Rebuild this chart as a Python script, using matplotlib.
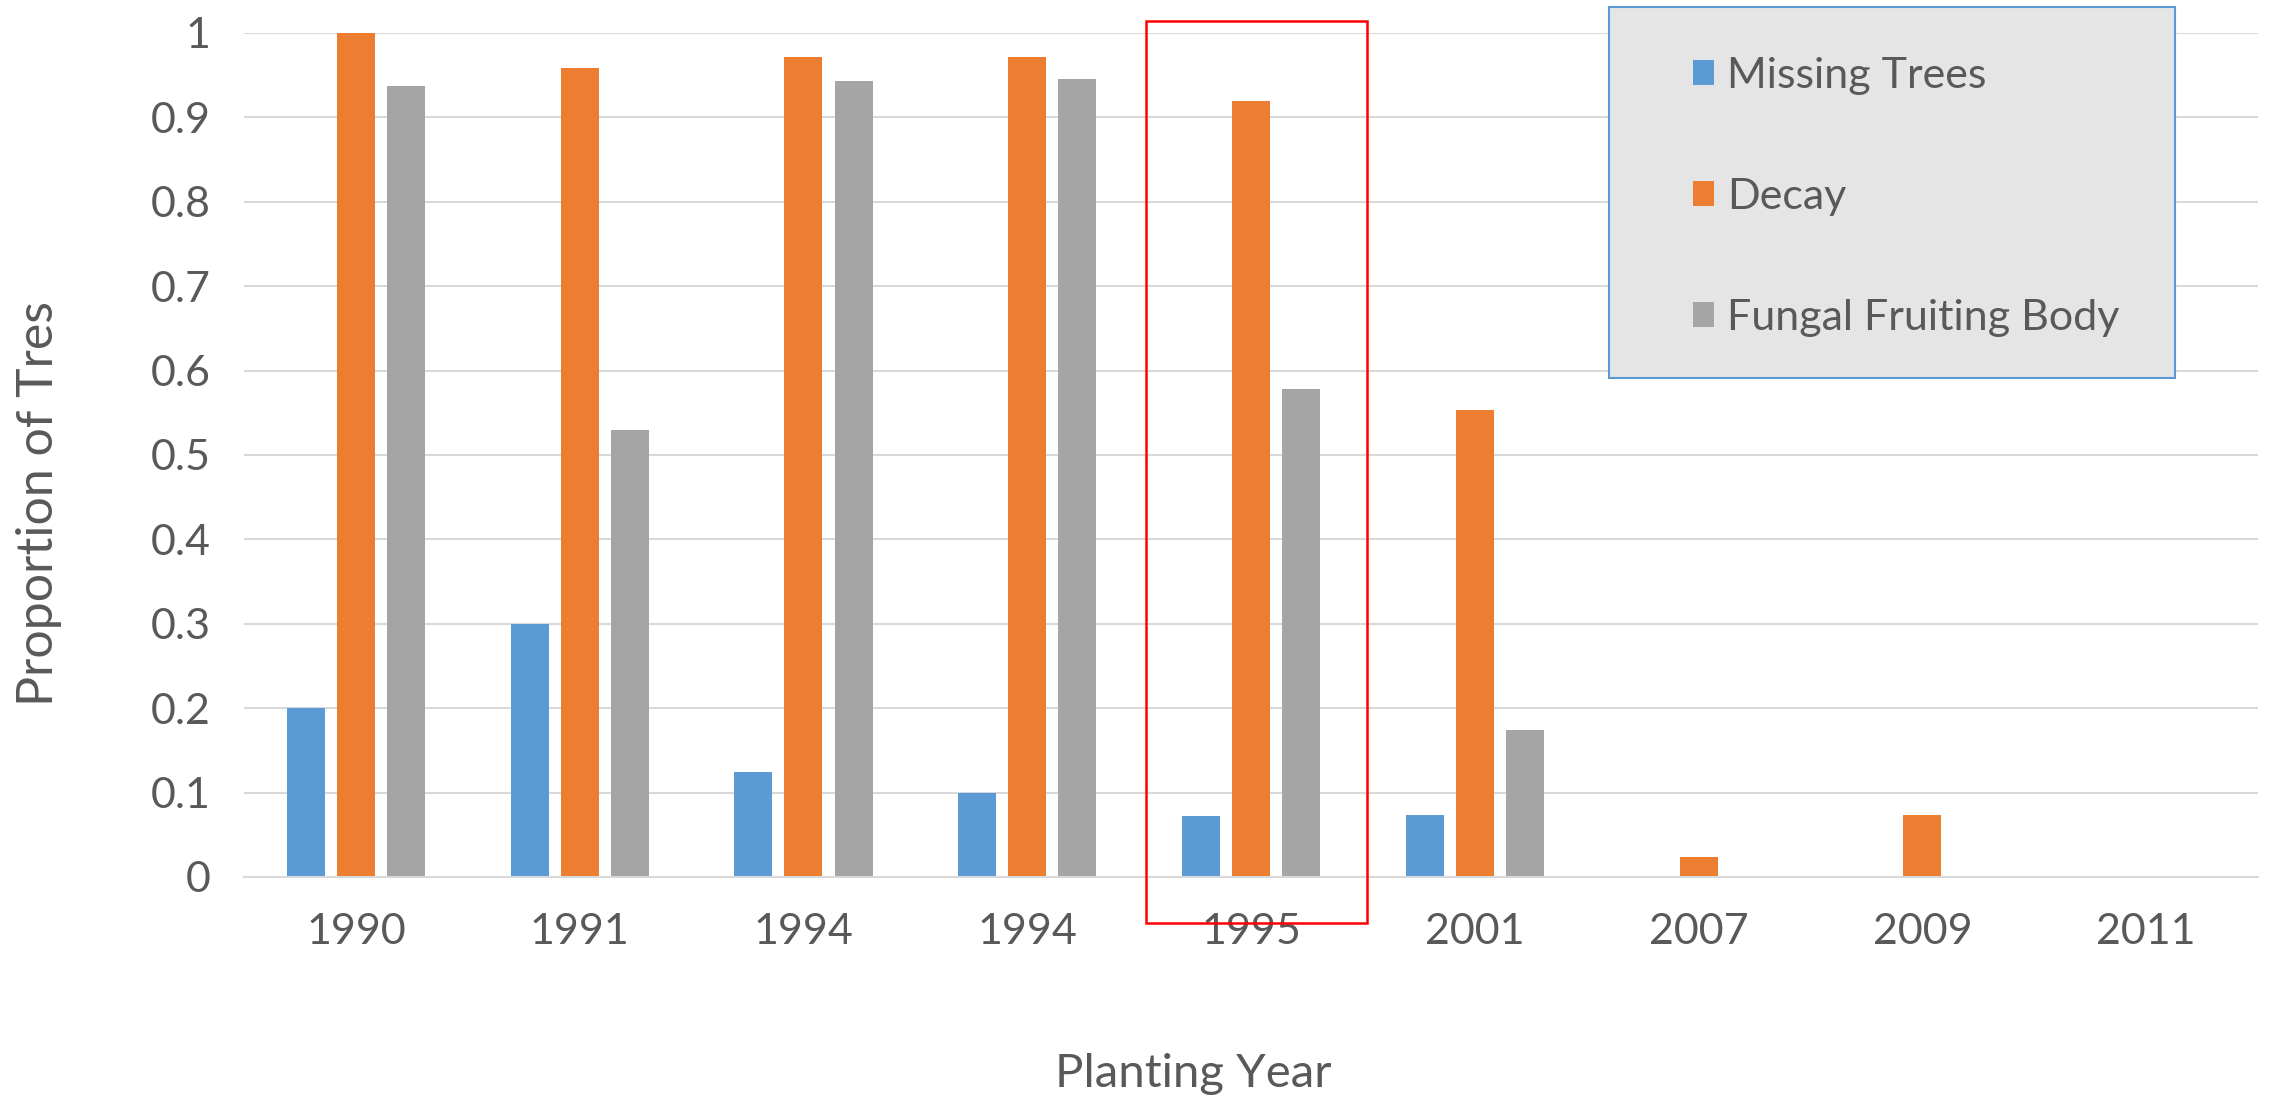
import matplotlib.pyplot as plt
import matplotlib.patches as mpatches
import numpy as np

# Данные
years = ["1990", "1991", "1994", "1994", "1995", "2001", "2007", "2009", "2011"]
missing_trees = [0.20, 0.30, 0.125, 0.10, 0.072, 0.074, 0, 0, 0]
decay = [1.00, 0.958, 0.971, 0.972, 0.920, 0.553, 0.024, 0.074, 0]
fungal_body = [0.937, 0.530, 0.943, 0.945, 0.578, 0.174, 0, 0, 0]
series_names = ["Missing Trees", "Decay", "Fungal Fruiting Body"]
colors = ["#5b9bd5", "#ed7d31", "#a5a5a5"]

plt.rcParams['font.family'] = ['Lato', 'DejaVu Sans']
text_color = "#595959"

fig = plt.figure(figsize=(22.77, 11.01), dpi=100, facecolor='white')
W, H = 2277, 1101
ax = fig.add_axes([244 / W, 1 - 877 / H, (2258 - 244) / W, (877 - 33) / H])

x = np.arange(len(years))
bw = 0.17
step = 0.224
for i, (vals, name, c) in enumerate(zip([missing_trees, decay, fungal_body], series_names, colors)):
    ax.bar(x + (i - 1) * step, vals, width=bw, color=c, label=name, zorder=2)

ax.set_xlim(-0.5, len(years) - 0.5)
ax.set_ylim(0, 1)
ax.set_yticks(np.arange(0, 1.01, 0.1))
ax.set_yticklabels(["0", "0.1", "0.2", "0.3", "0.4", "0.5", "0.6", "0.7", "0.8", "0.9", "1"])
ax.set_xticks(x)
ax.set_xticklabels(years)
ax.tick_params(axis='both', length=0, labelsize=31, labelcolor=text_color)
ax.tick_params(axis='x', pad=26)
ax.tick_params(axis='y', pad=24)
ax.grid(axis='y', color='#d9d9d9', linewidth=1.5, zorder=0)
ax.set_axisbelow(True)
for s in ["top", "right", "left"]:
    ax.spines[s].set_visible(False)
ax.spines["bottom"].set_color('#d9d9d9')
ax.spines["bottom"].set_linewidth(1.5)

ax.set_xlabel("Planting Year", fontsize=34, color=text_color, va='center')
ax.xaxis.set_label_coords(0.4715, -0.234)
ax.set_ylabel("Proportion of Tres", fontsize=36, color=text_color, va='center')
ax.yaxis.set_label_coords(-0.102, 0.442)

# Рамка легенды
box = mpatches.Rectangle((0.678, 0.591), 0.281, 0.44, transform=ax.transAxes,
                         facecolor='#e5e5e5', edgecolor='#5b9bd5', linewidth=1.5,
                         clip_on=False, zorder=3)
ax.add_patch(box)
leg = ax.legend(loc='upper left', bbox_to_anchor=(0.70, 1.018), frameon=False,
                fontsize=31, labelcolor=text_color, handlelength=0.5, handleheight=0.5,
                handletextpad=0.3, labelspacing=1.93)
leg.set_zorder(5)

# Красная рамка вокруг 1995
red = mpatches.Rectangle((3.53, -0.055), 0.99, 1.069, fill=False, edgecolor='#ff0000',
                         linewidth=1.8, clip_on=False, zorder=4)
ax.add_patch(red)

plt.savefig("out.png", dpi=100)
